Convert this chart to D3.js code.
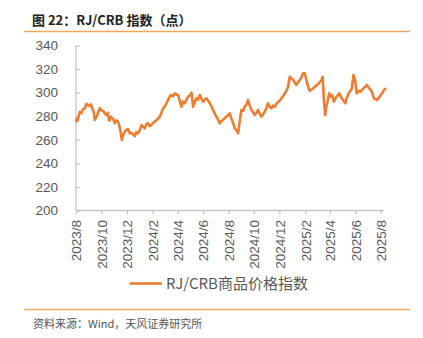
<!DOCTYPE html>
<html><head><meta charset="utf-8">
<script src="https://cdn.jsdelivr.net/npm/d3@7"></script>
<style>
html,body{margin:0;padding:0;background:#fff;}
svg{display:block;}
</style></head>
<body>
<svg id="chart" width="423" height="338"></svg>
<script>
const titleText = "图 22：RJ/CRB 指数（点）";
const sourceText = "资料来源：Wind，天风证券研究所";
const seriesName = "RJ/CRB商品价格指数";
const yTicks = [200, 220, 240, 260, 280, 300, 320, 340];
const xTickDates = ["2023-08-01","2023-10-01","2023-12-01","2024-02-01","2024-04-01","2024-06-01","2024-08-01","2024-10-01","2024-12-01","2025-02-01","2025-04-01","2025-06-01","2025-08-01"];
const dates = [
"2023-08-01","2023-08-03","2023-08-05","2023-08-08","2023-08-10","2023-08-14","2023-08-18","2023-08-22","2023-08-26","2023-08-30",
"2023-09-03","2023-09-06","2023-09-10","2023-09-13","2023-09-15","2023-09-18","2023-09-21","2023-09-24","2023-09-27","2023-10-01",
"2023-10-05","2023-10-09","2023-10-13","2023-10-16","2023-10-20","2023-10-24","2023-10-28","2023-10-31","2023-11-02","2023-11-06",
"2023-11-10","2023-11-13","2023-11-16","2023-11-19","2023-11-22","2023-11-26","2023-11-30","2023-12-04","2023-12-08","2023-12-12",
"2023-12-16","2023-12-20","2023-12-24","2023-12-28","2024-01-01","2024-01-05","2024-01-09","2024-01-13","2024-01-17","2024-01-21",
"2024-01-25","2024-01-29","2024-02-02","2024-02-06","2024-02-10","2024-02-14","2024-02-18","2024-02-22","2024-02-26","2024-03-01",
"2024-03-05","2024-03-08","2024-03-11","2024-03-14","2024-03-17","2024-03-21","2024-03-25","2024-03-29","2024-04-02","2024-04-06",
"2024-04-10","2024-04-14","2024-04-18","2024-04-22","2024-04-26","2024-04-30","2024-05-04","2024-05-06","2024-05-08","2024-05-12",
"2024-05-16","2024-05-20","2024-05-24","2024-05-28","2024-06-01","2024-06-05","2024-06-09","2024-06-13","2024-06-17","2024-06-21",
"2024-06-25","2024-06-29","2024-07-03","2024-07-07","2024-07-11","2024-07-15","2024-07-19","2024-07-23","2024-07-27","2024-07-31",
"2024-08-04","2024-08-07","2024-08-11","2024-08-14","2024-08-16","2024-08-20","2024-08-24","2024-08-28","2024-09-01","2024-09-05",
"2024-09-09","2024-09-13","2024-09-17","2024-09-21","2024-09-25","2024-09-29","2024-10-03","2024-10-07","2024-10-11","2024-10-15",
"2024-10-19","2024-10-23","2024-10-27","2024-10-31","2024-11-04","2024-11-08","2024-11-12","2024-11-16","2024-11-20","2024-11-24",
"2024-11-28","2024-12-02","2024-12-06","2024-12-10","2024-12-14","2024-12-18","2024-12-22","2024-12-26","2024-12-30","2025-01-03",
"2025-01-07","2025-01-11","2025-01-15","2025-01-19","2025-01-23","2025-01-27","2025-01-31","2025-02-03","2025-02-06","2025-02-09",
"2025-02-12","2025-02-16","2025-02-20","2025-02-24","2025-02-28","2025-03-04","2025-03-08","2025-03-12","2025-03-15","2025-03-18",
"2025-03-21","2025-03-23","2025-03-26","2025-03-28","2025-03-31","2025-04-03","2025-04-06","2025-04-09","2025-04-11","2025-04-14",
"2025-04-17","2025-04-21","2025-04-24","2025-04-27","2025-04-30","2025-05-04","2025-05-08","2025-05-12","2025-05-16","2025-05-20",
"2025-05-24","2025-05-28","2025-06-01","2025-06-03","2025-06-05","2025-06-09","2025-06-13","2025-06-17","2025-06-21","2025-06-25",
"2025-06-29","2025-07-02","2025-07-05","2025-07-08","2025-07-11","2025-07-14","2025-07-16","2025-07-20","2025-07-23","2025-07-26",
"2025-07-29","2025-08-01","2025-08-04","2025-08-07","2025-08-09","2025-08-14"];
const values = [
275,278,276.5,281,283.8,282.5,285.9,286.5,290.4,289.5,
288.7,290,285.9,283,276.8,279,281,284,286.7,285,
284.7,282.5,281,282.8,276.2,279.5,278.2,276,274,276.5,
275.3,272,266.9,259.8,264,266.9,268.5,268.9,265.5,266,
264.5,263.2,266.5,265.5,268,272.5,271,269.7,273.5,274,
271.5,272.5,274.5,275.3,276.8,278,279.6,283,286.7,288,
291,293,295.2,297.5,298,297,299.4,298.5,298,293,
288,292.5,291,294,296.6,297.5,300,295,288,292,
295.2,294,298,295,292.3,294,295.2,293.5,291,288.5,
285.3,282,279.6,277,274,276,276.8,278.5,279.6,281,
282.5,279,275.3,272,269.7,268.3,265.5,276,285.3,284.5,
288,290,293.7,289,285.3,283.5,281,283,285.3,282,
279.6,281.5,283.8,287,291,288,286.7,289,288,290.5,
292.3,293,295.2,297,299.4,301.5,305,313.5,312,310.7,
308.5,306.5,309,310.7,313,316.4,316.4,312,307.9,304,
301.5,302.5,303.5,305,306,307.5,309,310.5,313.5,293.7,
281,287,291,295,299.4,296.5,298,295,292.3,294.5,
296.6,298,299.4,297,295.2,293.5,291,295.5,299.4,301,
303.7,315,310.7,304,299.4,301.5,300.8,302,303.7,305,
306.5,305,303.7,302.5,300.8,297.5,295.2,294.5,293.7,295,
296,298,299.4,300.5,302.2,303.7];

const parse = d3.timeParse("%Y-%m-%d");
const data = dates.map((d, i) => ({date: parse(d), value: values[i]}));

const svg = d3.select("#chart");
const cjk = "'Noto Sans CJK SC', 'Noto Sans', sans-serif";
const latin = "'Liberation Sans', Arial, sans-serif";
const orange = "#ED7D31";
const ruleColor = "#F4A65E";
const axisColor = "#C6C6C6";
const textColor = "#595959";

// Title
svg.append("text").attr("x", 32).attr("y", 25)
  .attr("font-family", cjk).attr("font-weight", "bold").attr("font-size", 13)
  .attr("fill", "#222").text(titleText);
svg.append("line").attr("x1", 24).attr("x2", 410).attr("y1", 31.5).attr("y2", 31.5)
  .attr("stroke", ruleColor).attr("stroke-width", 1.5);

const x = d3.scaleTime()
  .domain([parse(dates[0]), parse(dates[dates.length - 1])])
  .range([76, 386]);
const y = d3.scaleLinear().domain([200, 340]).range([210.5, 45.5]);

// Y axis
const yAxis = svg.append("g").attr("transform", "translate(76,0)")
  .call(d3.axisLeft(y).tickValues(yTicks).tickSize(-4).tickPadding(18));
yAxis.selectAll("path,line").attr("stroke", axisColor).attr("stroke-width", 1.3);
yAxis.select(".domain").attr("d", `M0,${y(340)}V${y(200)}`);
yAxis.selectAll("text").attr("font-family", latin).attr("font-size", 13.5).attr("fill", textColor);

// X axis
const xAxis = svg.append("g").attr("transform", `translate(0,${y(200)})`)
  .call(d3.axisBottom(x).tickValues(xTickDates.map(parse)).tickSize(4).tickFormat(d3.timeFormat("%Y/%-m")));
xAxis.selectAll("path,line").attr("stroke", axisColor).attr("stroke-width", 1.3);
xAxis.select(".domain").attr("d", `M76,0H384`);
xAxis.selectAll("text")
  .attr("font-family", latin).attr("font-size", 13.5).attr("fill", textColor)
  .attr("text-anchor", "end")
  .attr("transform", "rotate(-90)")
  .attr("x", -9.5).attr("y", 0).attr("dy", "0.36em");

// Line
const line = d3.line().x(d => x(d.date)).y(d => y(d.value));
svg.append("path").datum(data).attr("d", line)
  .attr("fill", "none").attr("stroke", orange).attr("stroke-width", 2.6)
  .attr("stroke-linejoin", "round");

// Legend
svg.append("line").attr("x1", 130).attr("x2", 162).attr("y1", 283.5).attr("y2", 283.5)
  .attr("stroke", orange).attr("stroke-width", 2.6);
svg.append("text").attr("x", 166).attr("y", 289)
  .attr("font-family", cjk).attr("font-size", 15).attr("fill", textColor).text(seriesName);

// Bottom rule & source
svg.append("line").attr("x1", 24).attr("x2", 410).attr("y1", 309.5).attr("y2", 309.5)
  .attr("stroke", ruleColor).attr("stroke-width", 1.5);
svg.append("text").attr("x", 33).attr("y", 328)
  .attr("font-family", cjk).attr("font-size", 11).attr("fill", "#555").text(sourceText);
</script>
</body></html>
